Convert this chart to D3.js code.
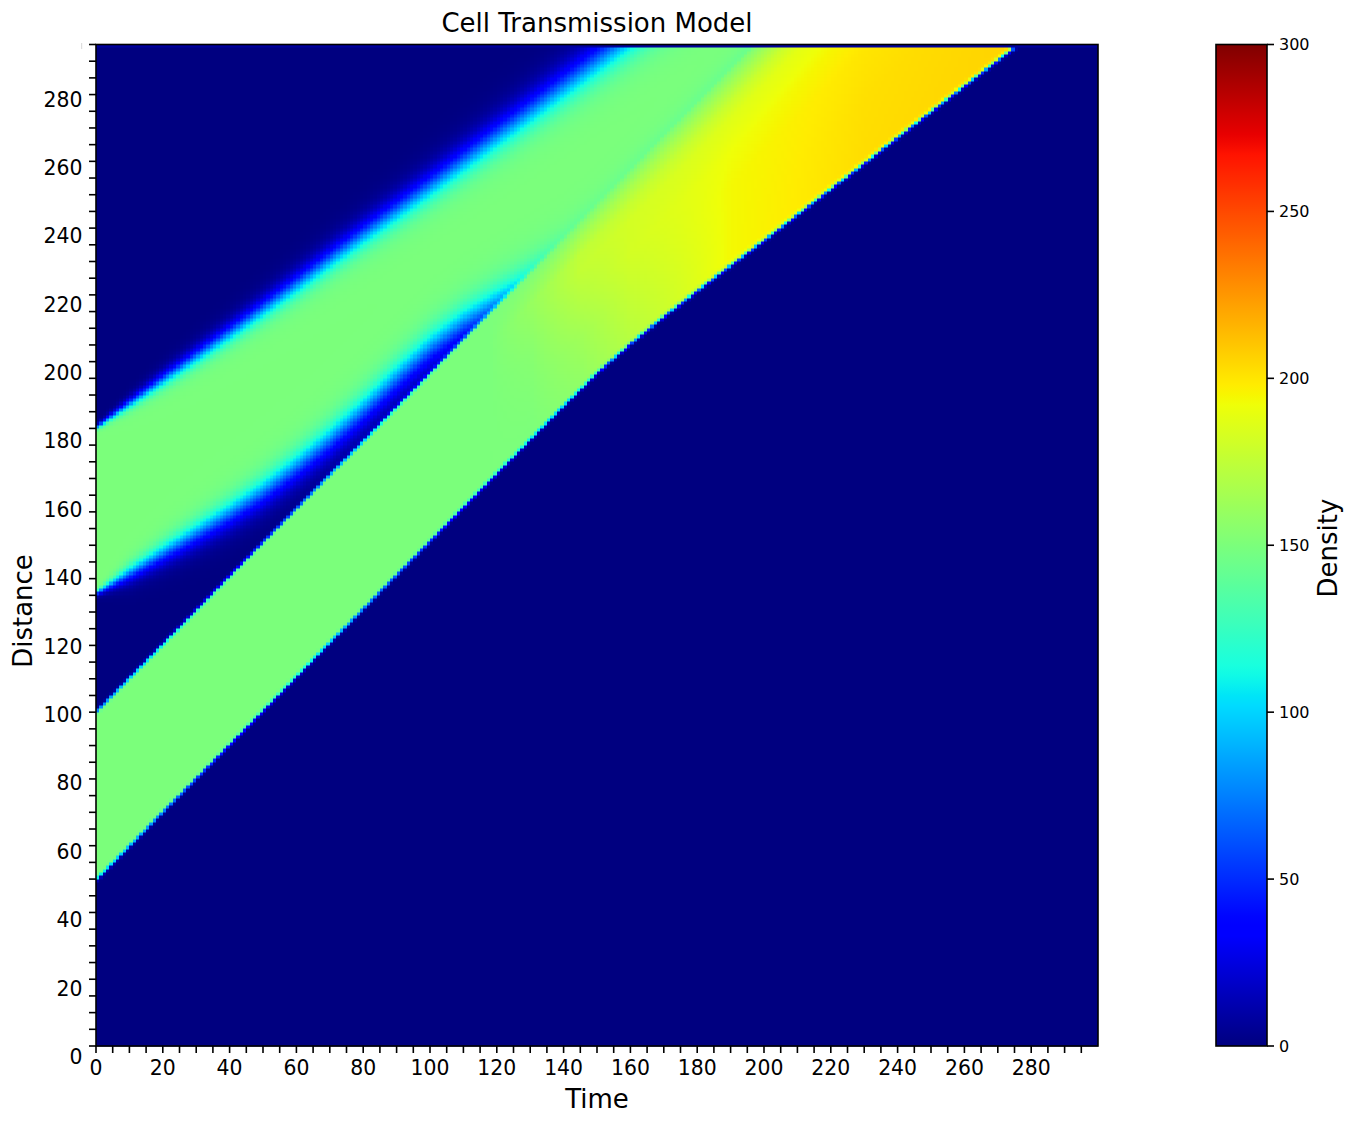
<!DOCTYPE html>
<html><head><meta charset="utf-8">
<script src="https://cdn.jsdelivr.net/npm/d3@7"></script>
<style>
body{margin:0;background:#fff;}
svg text{font-family:"DejaVu Sans",sans-serif;fill:#000;}
</style>
</head><body>
<svg id="chart" width="1356" height="1132"></svg>
<script>
// ---------------- data ----------------
// time samples (every 10 steps) for the platoon boundaries
const edgeTimes    = [0, 10, 20, 30, 40, 50, 60, 70, 80, 90, 100, 110, 120, 130, 140, 150,
                      160, 170, 180, 190, 200, 210, 220, 230, 240, 250, 260, 270, 280, 290, 300];
// leading (upper) edge of platoon A: centre of the diffused edge, and its spread
const frontA       = [185.2, 192.4, 199.5, 206.5, 213.5, 220.7, 228, 235.5, 243, 250.2, 257.5, 265, 272.5, 280, 287.5, 295,
                      302.5, 310, 317.5, 325, 332.5, 340, 347.5, 355, 362.5, 370, 377.5, 385, 392.5, 400, 407.5];
const frontAWidth  = [0.4, 1.0, 1.4, 1.7, 1.9, 2.1, 2.3, 2.45, 2.6, 2.75, 2.9, 3.05, 3.2, 3.35, 3.5, 3.6,
                      3.7, 3.8, 3.9, 3.95, 4.0, 4.05, 4.1, 4.15, 4.2, 4.25, 4.3, 4.35, 4.4, 4.4, 4.4];
// trailing (lower) edge of platoon A (after the merge it lies inside platoon B)
const tailA        = [135.5, 141.5, 147.5, 153.5, 159.5, 166, 173.5, 181.5, 190.5, 200, 209, 216.5, 222.5, 228, 234, 242.3,
                      252.4, 262.6, 272.7, 282.9, 293, 303.2, 313.3, 323.5, 333.6, 343.8, 353.9, 364.1, 374.2, 384.4, 394.5];
const tailAWidth   = [0.4, 1.5, 2.0, 2.35, 2.6, 2.8, 2.9, 3.0, 3.1, 3.2, 3.3, 3.35, 3.4, 3.5, 3.5, 3.5,
                      3.5, 3.5, 3.5, 3.5, 3.5, 3.5, 3.5, 3.5, 3.5, 3.5, 3.5, 3.5, 3.5, 3.5, 3.5];
// sharp leading and trailing edges of platoon B
const frontB       = [100, 110.2, 120.3, 130.5, 140.6, 150.8, 160.9, 171.1, 181.2, 191.4, 201.5, 211.7, 221.8, 232, 242.1, 252.3,
                      262.4, 272.6, 282.7, 292.9, 303, 313.2, 323.3, 333.5, 343.6, 353.8, 363.9, 374.1, 384.2, 394.4, 404.5];
const rearB        = [49.7, 59.85, 70, 80.15, 90.3, 100.45, 110.6, 120.8, 131, 141.1, 151.2, 161.4, 171.5, 181.7, 191.8, 201.6,
                      210.3, 218.5, 226.3, 233.9, 241.4, 249.1, 256.8, 264.5, 272.2, 279.9, 287.6, 295.3, 303, 310.7, 318.4];
const platoonDensity = 150;
const topRowDensity  = 8;
// density inside the merged platoon: rows = time, columns = depth below platoon B's leading edge
const mergeTimes   = [118, 130, 145, 160, 190, 230, 280];
const mergeDepths  = [0, 5, 10, 15, 25, 35, 50, 70];
const mergeDensity = [
  [150, 150, 150, 150, 150, 150, 150, 150],
  [150, 156, 160, 158, 154, 152, 150, 150],
  [150, 165, 175, 176, 170, 163, 157, 154],
  [150, 166, 177, 182, 182, 178, 172, 168],
  [150, 165, 178, 186, 192, 194, 194, 194],
  [150, 166, 181, 190, 196, 200, 202, 203],
  [150, 168, 184, 193, 199, 203, 205, 206]
];
// axes
const xTickLabels   = [0, 20, 40, 60, 80, 100, 120, 140, 160, 180, 200, 220, 240, 260, 280];
const yTickLabels   = [0, 20, 40, 60, 80, 100, 120, 140, 160, 180, 200, 220, 240, 260, 280];
const colorbarTicks = [0, 50, 100, 150, 200, 250, 300];
// matplotlib "jet" colormap segments
const jetRed   = [[0, 0], [0.35, 0], [0.66, 1], [0.89, 1], [1, 0.5]];
const jetGreen = [[0, 0], [0.125, 0], [0.375, 1], [0.64, 1], [0.91, 0], [1, 0]];
const jetBlue  = [[0, 0.5], [0.11, 1], [0.34, 1], [0.65, 0], [1, 0]];

// ---------------- layout ----------------
const plot = {left: 96, right: 1098, top: 44.5, bottom: 1046};
const cbar = {left: 1216, right: 1267, top: 44.5, bottom: 1046};
const nT = 300, nD = 300;

const x = d3.scaleLinear().domain([0, 300]).range([plot.left, plot.right]);
const y = d3.scaleLinear().domain([0, 300]).range([plot.bottom, plot.top]);
const yLabelPos = d3.scaleLinear().domain([0, 280]).range([1057, 99.5]);
const cY = d3.scaleLinear().domain([0, 300]).range([cbar.bottom, cbar.top]);

const chan = seg => d3.scaleLinear().domain(seg.map(s => s[0])).range(seg.map(s => s[1])).clamp(true);
const rS = chan(jetRed), gS = chan(jetGreen), bS = chan(jetBlue);
const norm = d3.scaleLinear().domain([0, 300]).range([0, 1]).clamp(true);
const jet = v => { const t = norm(v); return d3.rgb(rS(t) * 255, gS(t) * 255, bS(t) * 255); };

const edge = arr => d3.scaleLinear().domain(edgeTimes).range(arr);
const fA = edge(frontA), fAw = edge(frontAWidth), tA = edge(tailA), tAw = edge(tailAWidth);
const fB = edge(frontB), rB = edge(rearB);
const S = z => 1 / (1 + Math.exp(-z));

function merged(t, u) {
  if (t <= mergeTimes[0] || u <= 0) return platoonDensity;
  const ti = Math.min(mergeTimes.length - 2, Math.max(0, d3.bisectRight(mergeTimes, t) - 1));
  const ui = Math.min(mergeDepths.length - 2, Math.max(0, d3.bisectRight(mergeDepths, u) - 1));
  const ft = Math.max(0, Math.min(1, (t - mergeTimes[ti]) / (mergeTimes[ti + 1] - mergeTimes[ti])));
  const fu = Math.max(0, Math.min(1, (u - mergeDepths[ui]) / (mergeDepths[ui + 1] - mergeDepths[ui])));
  const a = mergeDensity[ti][ui] * (1 - fu) + mergeDensity[ti][ui + 1] * fu;
  const b = mergeDensity[ti + 1][ui] * (1 - fu) + mergeDensity[ti + 1][ui + 1] * fu;
  return a * (1 - ft) + b * ft;
}

function density(t, d) {
  if (d > 299) return topRowDensity;
  const fb = fB(t), rb = rB(t);
  const ws = 0.3;
  const pA = d < rb ? 0 : platoonDensity * S((fA(t) - d) / fAw(t)) * S((d - tA(t)) / tAw(t));
  const inB = S((fb - d) / ws) * S((d - rb) / ws);
  const mB = merged(t, fb - d);
  return pA * (1 - inB) + mB * inB;
}

// ---------------- draw ----------------
const svg = d3.select("#chart");

// heat map cells
const canvas = document.createElement("canvas");
const cw = Math.round(plot.right - plot.left), ch = Math.round(plot.bottom - plot.top);
canvas.width = cw; canvas.height = ch;
const ctx = canvas.getContext("2d");
for (let i = 0; i < nT; i++) {
  const x0 = Math.round(x(i) - plot.left), x1 = Math.round(x(i + 1) - plot.left);
  for (let j = 0; j < nD; j++) {
    const y0 = Math.round(y(j + 1) - plot.top), y1 = Math.round(y(j) - plot.top);
    ctx.fillStyle = jet(density(i + 0.5, j + 0.5)).toString();
    ctx.fillRect(x0, y0, x1 - x0, y1 - y0);
  }
}
svg.append("image")
  .attr("x", plot.left).attr("y", plot.top)
  .attr("width", cw).attr("height", ch)
  .attr("preserveAspectRatio", "none")
  .attr("href", canvas.toDataURL());

// frame
svg.append("rect")
  .attr("x", plot.left).attr("y", plot.top)
  .attr("width", plot.right - plot.left).attr("height", plot.bottom - plot.top)
  .attr("fill", "none").attr("stroke", "#000").attr("stroke-width", 1.6);

// x ticks
const gx = svg.append("g");
gx.selectAll("line").data(d3.range(0, 300, 5)).join("line")
  .attr("x1", d => x(d)).attr("x2", d => x(d))
  .attr("y1", plot.bottom).attr("y2", plot.bottom + 7)
  .attr("stroke", "#000").attr("stroke-width", 1.6);
gx.selectAll("text").data(xTickLabels).join("text")
  .attr("x", d => x(d)).attr("y", 1074.5)
  .attr("text-anchor", "middle").attr("font-size", 20.4)
  .text(d => d);

// y ticks
const gy = svg.append("g");
gy.selectAll("line").data(d3.range(0, 301, 5)).join("line")
  .attr("x1", plot.left - 7).attr("x2", plot.left)
  .attr("y1", d => y(d)).attr("y2", d => y(d))
  .attr("stroke", "#000").attr("stroke-width", 1.6);
gy.selectAll("text").data(yTickLabels).join("text")
  .attr("x", 82.5).attr("y", d => yLabelPos(d))
  .attr("text-anchor", "end").attr("dominant-baseline", "central").attr("font-size", 20.4)
  .text(d => d);
svg.append("line").attr("x1", 81.7).attr("x2", 81.7).attr("y1", 43).attr("y2", 49)
  .attr("stroke", "#ccc").attr("stroke-width", 0.8);

// titles
svg.append("text").attr("x", 597).attr("y", 32).attr("text-anchor", "middle")
  .attr("font-size", 26).text("Cell Transmission Model");
svg.append("text").attr("x", 597).attr("y", 1107.5).attr("text-anchor", "middle")
  .attr("font-size", 26).text("Time");
svg.append("text").attr("transform", "translate(32,611) rotate(-90)")
  .attr("text-anchor", "middle").attr("font-size", 26).text("Distance");

// colorbar
const defs = svg.append("defs");
const grad = defs.append("linearGradient").attr("id", "jetgrad")
  .attr("x1", 0).attr("y1", 1).attr("x2", 0).attr("y2", 0);
grad.selectAll("stop").data(d3.range(0, 301, 3)).join("stop")
  .attr("offset", d => norm(d)).attr("stop-color", d => jet(d).toString());
svg.append("rect")
  .attr("x", cbar.left).attr("y", cbar.top)
  .attr("width", cbar.right - cbar.left).attr("height", cbar.bottom - cbar.top)
  .attr("fill", "url(#jetgrad)").attr("stroke", "#000").attr("stroke-width", 1.6);
const gc = svg.append("g");
gc.selectAll("line").data(colorbarTicks).join("line")
  .attr("x1", cbar.right).attr("x2", cbar.right + 7)
  .attr("y1", d => cY(d)).attr("y2", d => cY(d))
  .attr("stroke", "#000").attr("stroke-width", 1.6);
gc.selectAll("text").data(colorbarTicks).join("text")
  .attr("x", cbar.right + 12).attr("y", d => cY(d))
  .attr("dominant-baseline", "central").attr("font-size", 16)
  .text(d => d);
svg.append("text").attr("transform", "translate(1337,548) rotate(-90)")
  .attr("text-anchor", "middle").attr("font-size", 26).text("Density");
</script>
</body></html>
